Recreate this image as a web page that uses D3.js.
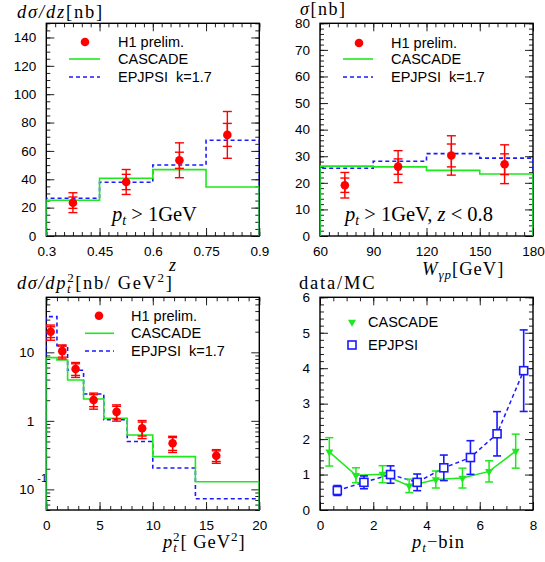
<!DOCTYPE html>
<html><head><meta charset="utf-8">
<script src="https://cdn.jsdelivr.net/npm/d3@7"></script>
<style>
body{margin:0;background:#fff}
svg{display:block}
.tick text{font-family:"Liberation Sans",Arial,sans-serif;font-size:13.5px;fill:#000}
.leg{font-family:"Liberation Sans",Arial,sans-serif;font-size:14.5px;fill:#000}
.math{font-family:"Liberation Serif","Times New Roman",serif;fill:#000}
</style></head><body><svg id="c" width="545" height="562"></svg>
<script>
// ---------------- data ----------------
// Panel 1: dsigma/dz
const zEdges = [0.3, 0.45, 0.6, 0.75, 0.9];
const zCascade = [25.2, 40.7, 46.8, 34.6];
const zEpjpsi = [26.6, 37.9, 50.1, 67.5];
const zX = [0.375, 0.525, 0.675, 0.81];
const zVal = [23.5, 38.1, 53.4, 71.3];
const zStat = [4.0, 5.4, 5.7, 8.1];
const zTot = [7.0, 8.8, 12.3, 16.5];
const zTicks = [0.3, 0.45, 0.6, 0.75, 0.9];
const zYTicks = [0, 20, 40, 60, 80, 100, 120, 140];
// Panel 2: sigma vs W
const wEdges = [60, 90, 120, 150, 180];
const wCascade = [26.3, 26.0, 24.7, 23.3];
const wEpjpsi = [25.5, 28.1, 31.0, 29.3];
const wX = [74, 104, 134, 164];
const wVal = [19.1, 26.1, 30.3, 27.0];
const wStat = [2.7, 2.9, 4.3, 3.9];
const wTot = [4.8, 6.0, 7.4, 7.3];
const wTicks = [60, 90, 120, 150, 180];
const wYTicks = [0, 10, 20, 30, 40, 50, 60, 70, 80];
// Panel 3: dsigma/dpt2
const ptEdges = [0, 1, 2, 3.5, 5.4, 7.6, 10, 14, 20];
const ptCascade = [8.36, 7.73, 3.95, 2.08, 1.09, 0.62, 0.30, 0.129];
const ptEpjpsi = [33.2, 12.5, 5.46, 2.46, 1.04, 0.50, 0.205, 0.073];
const ptX = [0.41, 1.5, 2.75, 4.44, 6.6, 9.0, 11.86, 15.96];
const ptVal = [20.0, 10.4, 5.7, 2.01, 1.35, 0.78, 0.47, 0.31];
const ptStat = [3.6, 1.9, 1.1, 0.40, 0.28, 0.18, 0.10, 0.055];
const ptTot = [5.0, 2.4, 1.4, 0.53, 0.36, 0.23, 0.125, 0.07];
const ptTicks = [0, 5, 10, 15, 20];
// Panel 4: data/MC
const rCasX = [0.35, 1.35, 2.35, 3.35, 4.35, 5.35, 6.35, 7.35];
const rCasVal = [1.64, 0.98, 1.01, 0.68, 0.86, 0.90, 1.09, 1.66];
const rCasErr = [0.40, 0.21, 0.24, 0.19, 0.24, 0.28, 0.30, 0.48];
const rEpjX = [0.65, 1.65, 2.65, 3.65, 4.65, 5.65, 6.65, 7.65];
const rEpjVal = [0.55, 0.78, 1.00, 0.78, 1.19, 1.48, 2.15, 3.93];
const rEpjErr = [0.14, 0.18, 0.245, 0.235, 0.36, 0.475, 0.625, 1.15];
const rTicks = [0, 2, 4, 6, 8];
const rYTicks = [0, 1, 2, 3, 4, 5, 6];

const RED = "#ff0000", GREEN = "#1ee81e", BLUE = "#1a1aff";
const svg = d3.select("#c");

function range(a, b, s) { const r = []; for (let v = a; v <= b + 1e-9; v += s) r.push(+v.toFixed(6)); return r; }

function frame(x, y, o) {
  const g = svg.append("g");
  const [x0, x1] = x.range(), [y0, y1] = y.range();
  const ax = (gen, tr) => { const a = g.append("g").attr("transform", tr).call(gen); a.select(".domain").remove(); return a; };
  ax(d3.axisBottom(x).tickValues(o.xMinor).tickSize(-4).tickFormat(""), `translate(0,${y0})`);
  ax(d3.axisTop(x).tickValues(o.xMinor).tickSize(-4).tickFormat(""), `translate(0,${y1})`);
  ax(d3.axisLeft(y).tickValues(o.yMinor).tickSize(-4).tickFormat(""), `translate(${x0},0)`);
  ax(d3.axisRight(y).tickValues(o.yMinor).tickSize(-4).tickFormat(""), `translate(${x1},0)`);
  ax(d3.axisBottom(x).tickValues(o.xMajor).tickSize(-8).tickPadding(10).tickFormat(o.xFmt || (d => d)), `translate(0,${y0})`);
  ax(d3.axisTop(x).tickValues(o.xMajor).tickSize(-8).tickFormat(""), `translate(0,${y1})`);
  const yl = ax(d3.axisLeft(y).tickValues(o.yMajor).tickSize(-8).tickPadding(o.yPad || 10).tickFormat(o.yFmt || (d => d)), `translate(${x0},0)`);
  ax(d3.axisRight(y).tickValues(o.yMajor).tickSize(-8).tickFormat(""), `translate(${x1},0)`);
  g.selectAll(".tick line").attr("stroke", "#222");
  g.append("rect").attr("x", x0).attr("y", y1).attr("width", x1 - x0).attr("height", y0 - y1)
    .attr("fill", "none").attr("stroke", "#000").attr("stroke-width", 1.4);
  return yl;
}

function clip(id, x, y) {
  const [x0, x1] = x.range(), [y0, y1] = y.range();
  svg.append("clipPath").attr("id", id).append("rect").attr("x", x0).attr("y", y1).attr("width", x1 - x0).attr("height", y0 - y1);
  return svg.append("g").attr("clip-path", `url(#${id})`);
}

function hist(g, x, y, edges, vals, base, color, dash) {
  const pts = [[edges[0], base]];
  vals.forEach((v, i) => { pts.push([edges[i], v]); pts.push([edges[i + 1], v]); });
  pts.push([edges[edges.length - 1], base]);
  g.append("path").attr("d", d3.line().x(d => x(d[0])).y(d => y(d[1]))(pts))
    .attr("fill", "none").attr("stroke", color).attr("stroke-width", 1.6)
    .attr("stroke-dasharray", dash || null);
}

function errbars(g, x, y, xs, vals, errs, color, cap, w) {
  xs.forEach((xv, i) => {
    const cx = x(xv), lo = y(vals[i] - errs[i]), hi = y(vals[i] + errs[i]);
    g.append("line").attr("x1", cx).attr("x2", cx).attr("y1", lo).attr("y2", hi).attr("stroke", color).attr("stroke-width", w);
    [lo, hi].forEach(yy => g.append("line").attr("x1", cx - cap).attr("x2", cx + cap).attr("y1", yy).attr("y2", yy).attr("stroke", color).attr("stroke-width", w));
  });
}

function dataPts(g, x, y, xs, vals, stat, tot) {
  errbars(g, x, y, xs, vals, tot, RED, 4.5, 1.4);
  errbars(g, x, y, xs, vals, stat, RED, 4.5, 1.4);
  xs.forEach((xv, i) => g.append("circle").attr("cx", x(xv)).attr("cy", y(vals[i])).attr("r", 4.3).attr("fill", RED));
}

function legend3(mx, lx1, lx2, tx, ys) {
  svg.append("circle").attr("cx", mx).attr("cy", ys[0]).attr("r", 4.3).attr("fill", RED);
  svg.append("line").attr("x1", lx1).attr("x2", lx2).attr("y1", ys[1]).attr("y2", ys[1]).attr("stroke", GREEN).attr("stroke-width", 1.6);
  svg.append("line").attr("x1", lx1).attr("x2", lx2).attr("y1", ys[2]).attr("y2", ys[2]).attr("stroke", BLUE).attr("stroke-width", 1.6).attr("stroke-dasharray", "4,3");
  ["H1 prelim.", "CASCADE", "EPJPSI  k=1.7"].forEach((t, i) =>
    svg.append("text").attr("class", "leg").attr("x", tx).attr("y", ys[i] + 5).attr("xml:space", "preserve").text(t));
}

function mtext(x, y, size, parts, ls) {
  const t = svg.append("text").attr("class", "math").attr("x", x).attr("y", y).attr("font-size", size)
    .attr("letter-spacing", ls || 0).attr("xml:space", "preserve");
  parts.forEach(p => {
    const s = t.append("tspan").text(p.t);
    if (p.i) s.attr("font-style", "italic");
    if (p.dy) s.attr("dy", p.dy);
    if (p.dx) s.attr("dx", p.dx);
    if (p.fs) s.attr("font-size", p.fs);
  });
  return t;
}

// ---------------- Panel 1 ----------------
{
  const x = d3.scaleLinear().domain([0.3, 0.9]).range([46.3, 259.3]);
  const y = d3.scaleLinear().domain([0, 150]).range([236, 23.3]);
  frame(x, y, { xMajor: zTicks, xMinor: range(0.3, 0.9, 0.025), yMajor: zYTicks, yMinor: range(0, 150, 5) });
  const g = clip("c1", x, y);
  hist(g, x, y, zEdges, zEpjpsi, 0, BLUE, "4,3");
  hist(g, x, y, zEdges, zCascade, 0, GREEN);
  dataPts(svg, x, y, zX, zVal, zStat, zTot);
  legend3(85, 69, 100, 118, [42, 59, 77]);
  mtext(112, 221, 20.5, [{ t: "p", i: 1 }, { t: "t", i: 1, dy: 4, fs: 14 }, { t: " > 1GeV", dy: -4 }]);
  mtext(17, 18, 18.5, [{ t: "dσ/dz", i: 1 }, { t: "[nb]" }], 1.8);
  mtext(169, 271, 18, [{ t: "z", i: 1 }]);
}
// ---------------- Panel 2 ----------------
{
  const x = d3.scaleLinear().domain([60, 180]).range([320, 533]);
  const y = d3.scaleLinear().domain([0, 80]).range([236, 23.3]);
  frame(x, y, { xMajor: wTicks, xMinor: range(60, 180, 5), yMajor: wYTicks, yMinor: range(0, 80, 2) });
  const g = clip("c2", x, y);
  hist(g, x, y, wEdges, wEpjpsi, 0, BLUE, "4,3");
  hist(g, x, y, wEdges, wCascade, 0, GREEN);
  dataPts(svg, x, y, wX, wVal, wStat, wTot);
  legend3(359, 343, 373, 391, [43, 59, 77]);
  mtext(345, 221, 20.5, [{ t: "p", i: 1 }, { t: "t", i: 1, dy: 4, fs: 14 }, { t: " > 1GeV, ", dy: -4 }, { t: "z", i: 1 }, { t: " < 0.8" }]);
  mtext(300, 15, 18, [{ t: "σ", i: 1 }, { t: "[nb]" }], 1.5);
  mtext(422, 275, 18.5, [{ t: "W", i: 1 }, { t: "γp", i: 1, dy: 4, fs: 13 }, { t: "[GeV]", dy: -4 }], 1);
}
// ---------------- Panel 3 ----------------
{
  const x = d3.scaleLinear().domain([0, 20]).range([46.3, 259.3]);
  const y = d3.scaleLog().domain([0.05, 63.5]).range([510, 297.3]);
  const minor = [];
  [0.01, 0.1, 1, 10].forEach(d => { for (let k = 2; k <= 9; k++) { const v = +(d * k).toPrecision(3); if (v >= 0.05 && v <= 63.5) minor.push(v); } });
  const yl = frame(x, y, { xMajor: ptTicks, xMinor: range(0, 20, 1), yMajor: [0.1, 1, 10], yMinor: minor, yFmt: d => d === 0.1 ? "10" : String(d), yPad: 12 });
  yl.selectAll(".tick").filter(d => d === 0.1).append("text").attr("x", -9).attr("y", -8).attr("text-anchor", "start")
    .style("font-size", "11px").text("-1");
  const g = clip("c3", x, y);
  hist(g, x, y, ptEdges, ptEpjpsi, 0.05, BLUE, "4,3");
  hist(g, x, y, ptEdges, ptCascade, 0.05, GREEN);
  dataPts(svg, x, y, ptX, ptVal, ptStat, ptTot);
  legend3(99, 85, 114, 131, [315.7, 333.3, 351]);
  mtext(17, 289, 18.5, [{ t: "dσ/dp", i: 1 }, { t: "t", i: 1, dy: 4, fs: 13 }, { t: "2", dy: -11, fs: 13, dx: -5 }, { t: "[nb/ GeV", dy: 7 }, { t: "2", dy: -7, fs: 13 }, { t: "]", dy: 7 }], 1.6);
  mtext(163, 548, 18.5, [{ t: "p", i: 1 }, { t: "t", i: 1, dy: 4, fs: 13 }, { t: "2", dy: -11, fs: 13, dx: -5 }, { t: "[ GeV", dy: 7 }, { t: "2", dy: -7, fs: 13 }, { t: "]", dy: 7 }], 1);
}
// ---------------- Panel 4 ----------------
{
  const x = d3.scaleLinear().domain([0, 8]).range([320, 533]);
  const y = d3.scaleLinear().domain([0, 6]).range([510, 297.3]);
  frame(x, y, { xMajor: rTicks, xMinor: range(0, 8, 0.5), yMajor: rYTicks, yMinor: range(0, 6, 0.2) });
  const line = d3.line().x(d => x(d[0])).y(d => y(d[1]));
  svg.append("path").attr("d", line(rCasX.map((v, i) => [v, rCasVal[i]]))).attr("fill", "none").attr("stroke", GREEN).attr("stroke-width", 1.5);
  svg.append("path").attr("d", line(rEpjX.map((v, i) => [v, rEpjVal[i]]))).attr("fill", "none").attr("stroke", BLUE).attr("stroke-width", 1.5).attr("stroke-dasharray", "4,3");
  errbars(svg, x, y, rCasX, rCasVal, rCasErr, GREEN, 4, 1.5);
  errbars(svg, x, y, rEpjX, rEpjVal, rEpjErr, BLUE, 4, 1.6);
  const tri = d3.symbol().type(d3.symbolTriangle).size(28);
  rCasX.forEach((v, i) => svg.append("path").attr("d", tri()).attr("transform", `translate(${x(v)},${y(rCasVal[i])}) rotate(180)`).attr("fill", GREEN));
  rEpjX.forEach((v, i) => svg.append("rect").attr("x", x(v) - 4).attr("y", y(rEpjVal[i]) - 4).attr("width", 8).attr("height", 8).attr("fill", "#fff").attr("stroke", BLUE).attr("stroke-width", 1.6));
  svg.append("path").attr("d", tri()).attr("transform", `translate(352,322) rotate(180)`).attr("fill", GREEN);
  svg.append("rect").attr("x", 348).attr("y", 341).attr("width", 8).attr("height", 8).attr("fill", "#fff").attr("stroke", BLUE).attr("stroke-width", 1.6);
  svg.append("text").attr("class", "leg").attr("x", 368).attr("y", 327).text("CASCADE");
  svg.append("text").attr("class", "leg").attr("x", 368).attr("y", 350).text("EPJPSI");
  mtext(299, 289, 18.5, [{ t: "data/MC" }], 1.8);
  mtext(412, 548, 18.5, [{ t: "p", i: 1 }, { t: "t", i: 1, dy: 4, fs: 13 }, { t: "−bin", dy: -4 }], 1);
}
</script></body></html>
